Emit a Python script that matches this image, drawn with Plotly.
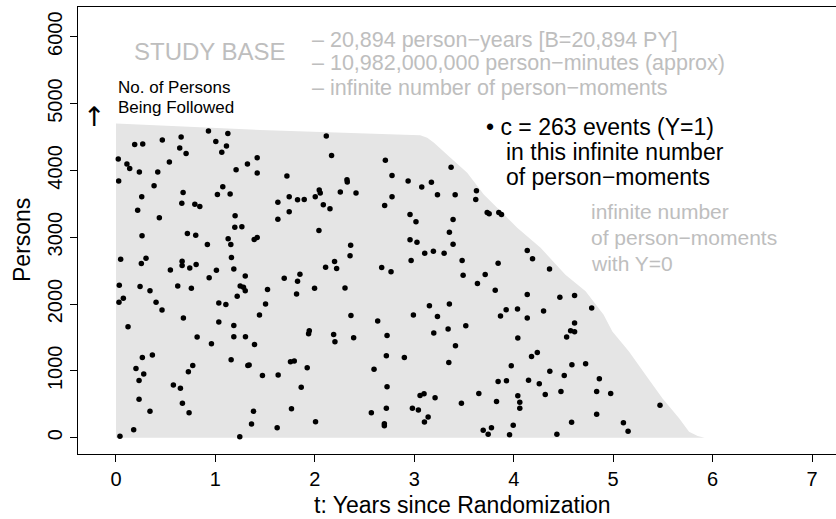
import plotly.graph_objects as go

# Event times (years since randomization) and the number of persons at risk
# at which each event is placed
event_t = [
    0.93, 1.125, 0.188, 0.269, 0.466, 0.655, 1.004, 1.111, 0.641, 0.705, 1.064,
    0.023, 0.11, 0.138, 0.235, 0.42, 0.537, 1.42, 1.322, 1.208, 1.42, 0.027,
    0.383, 0.259, 0.675, 0.662, 0.793, 0.843, 1.074, 1.02, 1.148, 0.218, 0.436,
    1.198, 1.195, 1.266, 0.262, 0.718, 0.802, 0.919, 1.128, 1.155, 1.39, 1.42,
    0.047, 0.255, 0.302, 0.547, 0.665, 0.665, 0.742, 0.806, 1.01, 1.161, 1.185,
    0.937, 1.30,
    0.033, 0.242, 0.342, 0.621, 0.758, 0.074, 0.03, 0.403, 0.463, 1.249, 1.282,
    1.30, 1.219, 1.034, 1.105, 0.678, 0.121, 1.034, 1.185, 1.443, 0.816, 0.96,
    1.185, 1.302, 1.393, 0.265, 0.366, 0.201, 0.279, 0.232, 0.772, 0.728, 1.158,
    1.326, 1.339, 0.577, 0.648, 0.232, 0.668, 0.342, 0.735, 1.383, 1.363, 0.178,
    0.04, 1.245,
    2.115, 2.168, 1.719, 2.709, 2.776, 2.323, 2.326, 2.044, 2.054, 2.004, 1.742,
    1.628, 1.826, 1.893, 2.256, 2.414, 2.085, 2.152, 2.776, 2.702, 1.742, 1.628,
    2.041, 2.36, 2.354, 2.198, 2.108, 2.219, 2.672, 2.766, 1.85, 1.692, 1.826,
    1.524, 1.816, 1.997, 2.303, 1.504, 2.363, 2.632, 1.944, 1.937, 2.189, 2.202,
    2.39, 2.726, 1.755, 1.793, 1.923, 2.719, 2.90, 2.595, 1.473, 1.631, 1.863,
    2.726, 1.765, 2.568, 2.719, 2.699, 2.699, 2.007, 1.621,
    3.37, 2.938, 3.075, 3.172, 3.233, 3.411, 3.625, 3.618, 3.733, 3.753, 3.85,
    3.877, 2.957, 3.017, 3.39, 3.353, 2.957, 3.027, 3.39, 3.105, 3.192, 3.30,
    2.968, 3.481, 3.843, 4.136, 4.189, 3.491, 3.713, 4.36,
    3.635, 3.814, 4.136, 3.152, 3.353, 2.991, 3.233, 3.924, 4.038, 3.867, 4.136,
    4.30, 3.196, 3.34, 3.518, 4.041, 3.414, 3.347, 4.179, 4.237, 3.975, 3.843,
    3.927, 4.149, 4.257, 4.317, 4.363, 3.058, 3.098, 3.209, 3.649, 3.474, 3.827,
    4.041, 4.061, 4.061, 2.981, 3.041, 3.139, 3.102, 3.693, 3.776, 3.743, 3.995,
    3.958,
    4.464, 4.612, 4.784, 4.612, 4.572, 4.612, 4.532, 4.585, 4.723, 4.508, 4.861,
    4.475, 4.834, 4.975, 5.471, 4.834, 4.582, 5.103, 5.15, 4.434,
]
event_n = [
    4590, 4551, 4386, 4395, 4455, 4500, 4431, 4365, 4335, 4251, 4270,
    4170, 4095, 4030, 3975, 3975, 4125, 4191, 4095, 4011, 3960, 3840,
    3771, 3606, 3670, 3510, 3495, 3460, 3756, 3640, 3645, 3405, 3291,
    3321, 3150, 3156, 3021, 3055, 3030, 2890, 2976, 2890, 2966, 2996,
    2670, 2605, 2685, 2511, 2640, 2575, 2541, 2590, 2505, 2695, 2526,
    2395, 2421,
    2280, 2261, 2200, 2271, 2235, 2085, 2025, 2025, 1911, 2271, 2250,
    2200, 2115, 2016, 1995, 1791, 1660, 1731, 1680, 1836, 1506, 1405,
    1510, 1510, 1395, 1200, 1236, 1035, 955, 855, 1080, 986, 1166,
    1080, 1086, 790, 741, 576, 516, 396, 375, 396, 205, 120,
    21, 15,
    4515, 4221, 3915, 4151, 3925, 3861, 3825, 3705, 3660, 3606, 3606,
    3525, 3561, 3566, 3675, 3660, 3486, 3426, 3606, 3476, 3381, 3270,
    3100, 2880, 2721, 2635, 2550, 2530, 2545, 2485, 2445, 2385, 2340,
    2216, 2151, 2235, 2241, 2001, 1830, 1746, 1601, 1556, 1545, 1436,
    1496, 1530, 1136, 1146, 1046, 1226, 1200, 1026, 930, 940, 756,
    761, 435, 375, 441, 210, 180, 240, 150,
    4046, 3840, 3750, 3821, 3636, 3636, 3696, 3566, 3371, 3351, 3371,
    3341, 3341, 3231, 3266, 3075, 2961, 2925, 2895, 2760, 2790, 2760,
    2651, 2651, 2610, 2801, 2676, 2430, 2441, 2526,
    2306, 2205, 2141, 1976, 2001, 1836, 1815, 1916, 1926, 1821, 1791,
    1896, 1566, 1626, 1676, 1491, 1376, 1125, 1215, 1275, 1076, 840,
    851, 861, 806, 645, 996, 630, 656, 596, 660, 516, 540,
    626, 531, 441, 441, 416, 311, 236, 111, 150, 51, 186,
    45,
    2100, 2126, 1941, 1716, 1601, 1586, 1506, 1091, 1106, 930, 881,
    690, 690, 660, 486, 351, 231, 225, 96, 51,
]

# Number of persons still being followed over time (the study base)
risk_t = [0.0, 1.45, 2.9, 3.06, 3.13, 3.195, 3.364, 3.532, 3.699, 3.867, 4.035,
          4.27, 4.52, 4.723, 4.904, 4.992, 5.159, 5.327, 5.495, 5.663, 5.763,
          5.85, 5.92]
risk_n = [4700, 4605, 4535, 4525, 4490, 4416, 4191, 3966, 3640, 3390, 3141,
          2841, 2440, 2190, 1840, 1590, 1290, 940, 591, 291, 90, 25, 0]

x_ticks = [0, 1, 2, 3, 4, 5, 6, 7]
y_ticks = [0, 1000, 2000, 3000, 4000, 5000, 6000]

FONT = "Liberation Sans, Arial, Helvetica, sans-serif"
GREY_TEXT = "#bebebe"
BASE_FILL = "#e5e5e5"

fig = go.Figure()

fig.add_trace(go.Scatter(
    x=risk_t, y=risk_n, mode="lines", fill="tozeroy",
    fillcolor=BASE_FILL, line=dict(width=0, color=BASE_FILL),
    hoverinfo="skip", showlegend=False,
))

fig.add_trace(go.Scatter(
    x=event_t, y=event_n, mode="markers",
    marker=dict(size=5.5, color="black", line=dict(width=0)),
    showlegend=False,
))


def note(x, y, text, size, color="black", xanchor="left", family=FONT):
    fig.add_annotation(x=x, y=y, xref="x", yref="y", text=text,
                       showarrow=False, xanchor=xanchor, yanchor="middle",
                       font=dict(family=family, size=size, color=color))


note(0.945, 5783, "STUDY BASE", 24, GREY_TEXT, xanchor="center")
note(1.951, 5955, "\u2013 20,894 person\u2212years [B=20,894 PY]", 21.5, GREY_TEXT)
note(1.951, 5606, "\u2013 10,982,000,000 person\u2212minutes (approx)", 21.5, GREY_TEXT)
note(1.951, 5232, "\u2013 infinite number of person\u2212moments", 21.5, GREY_TEXT)

note(0.0, 5236, "No. of Persons", 17)
note(0.0, 4936, "Being Followed", 17)
note(-0.221, 4800, "\u2191", 27, xanchor="center",
     family="DejaVu Sans, Liberation Sans, sans-serif")

note(3.701, 4652, "\u2022 c = 263 events (Y=1)", 23)
note(3.905, 4278, "in this infinite number", 23)
note(3.905, 3904, "of person\u2212moments", 23)

note(4.757, 3380, "infinite number", 21, GREY_TEXT)
note(4.757, 2990, "of person\u2212moments", 21, GREY_TEXT)
note(4.757, 2601, "with Y=0", 21, GREY_TEXT)

# Axis titles
fig.add_annotation(x=0.5066, y=-0.114, xref="paper", yref="paper",
                   text="t: Years since Randomization", showarrow=False,
                   xanchor="center", yanchor="middle",
                   font=dict(family=FONT, size=23, color="black"))
fig.add_annotation(x=-0.0739, y=0.4787, xref="paper", yref="paper",
                   text="Persons", showarrow=False, textangle=-90,
                   xanchor="center", yanchor="middle",
                   font=dict(family=FONT, size=23, color="black"))

fig.update_layout(
    template="none",
    width=836, height=519,
    margin=dict(l=78, r=0, t=7, b=65),
    paper_bgcolor="white", plot_bgcolor="white",
    font=dict(family=FONT, size=20, color="black"),
    xaxis=dict(range=[-0.382, 7.241], tickvals=x_ticks,
               ticktext=[str(v) for v in x_ticks],
               showgrid=False, zeroline=False, showline=True,
               linecolor="black", linewidth=1, mirror=True,
               ticks="outside", ticklen=7, tickcolor="black", tickwidth=1,
               tickfont=dict(family=FONT, size=20), automargin=False),
    yaxis=dict(range=[-244, 6445], tickvals=y_ticks,
               ticktext=[str(v) for v in y_ticks], tickangle=-90,
               showgrid=False, zeroline=False, showline=True,
               linecolor="black", linewidth=1,
               ticks="outside", ticklen=7, tickcolor="black", tickwidth=1,
               tickfont=dict(family=FONT, size=20), automargin=False),
)

fig.write_html("out.html")
